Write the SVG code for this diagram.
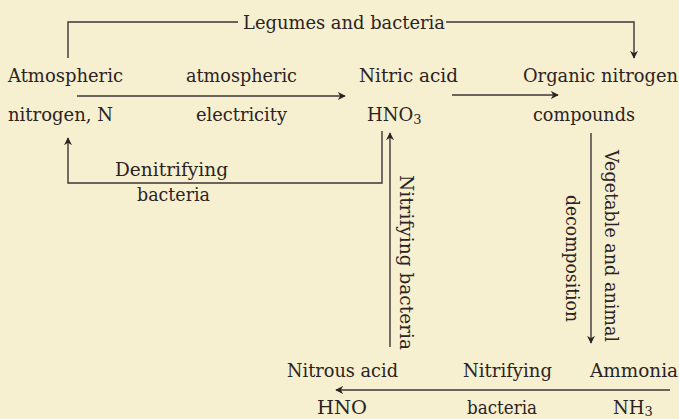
<svg xmlns="http://www.w3.org/2000/svg" width="679" height="419" viewBox="0 0 679 419">
<style>
  text { font-family: "DejaVu Serif", "Liberation Serif", serif; font-size: 18px; fill: #2b2323; }
  .sub { font-size: 13px; }
  .ln { stroke: #3e3434; stroke-width: 1.4; fill: none; }
</style>
<defs>
  <marker id="ah" viewBox="0 0 10 10" refX="9" refY="5" markerWidth="8" markerHeight="8" markerUnits="userSpaceOnUse" orient="auto">
    <path d="M0,0 L10,5 L0,10 L3,5 Z" fill="#2b2323"/>
  </marker>
</defs>
<rect width="679" height="419" fill="#f6efd0"/>

<g id="connectors">
  <path class="ln" d="M68,58 V22 H238"/>
  <path class="ln" d="M446,22 H634 V58" marker-end="url(#ah)"/>
  <path class="ln" d="M77,96 H345" marker-end="url(#ah)"/>
  <path class="ln" d="M452,95 H558" marker-end="url(#ah)"/>
  <path class="ln" d="M382,131 V183 H68 V138" marker-end="url(#ah)"/>
  <path class="ln" d="M390,347 V133" marker-end="url(#ah)"/>
  <path class="ln" d="M591,133 V343" marker-end="url(#ah)"/>
  <path class="ln" d="M670,390 H336" marker-end="url(#ah)"/>
</g>

<g id="label-legumes"><text x="243" y="29" textLength="202" lengthAdjust="spacingAndGlyphs">Legumes and bacteria</text></g>
<g id="node-atmospheric-nitrogen">
  <text x="8" y="82" textLength="115" lengthAdjust="spacingAndGlyphs">Atmospheric</text>
  <text x="8" y="121" textLength="105" lengthAdjust="spacingAndGlyphs">nitrogen, N</text>
</g>
<g id="label-electricity">
  <text x="186" y="82" textLength="111" lengthAdjust="spacingAndGlyphs">atmospheric</text>
  <text x="196" y="121" textLength="91" lengthAdjust="spacingAndGlyphs">electricity</text>
</g>
<g id="node-nitric-acid">
  <text x="359" y="82" textLength="99" lengthAdjust="spacingAndGlyphs">Nitric acid</text>
  <text x="367" y="121">HNO<tspan class="sub" dy="3">3</tspan></text>
</g>
<g id="node-organic-nitrogen">
  <text x="523" y="82" textLength="155" lengthAdjust="spacingAndGlyphs">Organic nitrogen</text>
  <text x="533" y="121" textLength="102" lengthAdjust="spacingAndGlyphs">compounds</text>
</g>
<g id="label-denitrifying">
  <text x="115" y="176" textLength="113" lengthAdjust="spacingAndGlyphs">Denitrifying</text>
  <text x="137" y="201" textLength="73" lengthAdjust="spacingAndGlyphs">bacteria</text>
</g>
<g id="label-nitrifying-vertical">
  <text transform="translate(400,175) rotate(90)" textLength="175" lengthAdjust="spacingAndGlyphs">Nitrifying bacteria</text>
</g>
<g id="label-decomposition">
  <text transform="translate(605,150) rotate(90)" textLength="192" lengthAdjust="spacingAndGlyphs">Vegetable and animal</text>
  <text transform="translate(566,195) rotate(90)" textLength="127" lengthAdjust="spacingAndGlyphs">decomposition</text>
</g>
<g id="node-nitrous-acid">
  <text x="287" y="377" textLength="111" lengthAdjust="spacingAndGlyphs">Nitrous acid</text>
  <text x="317" y="414" textLength="50" lengthAdjust="spacingAndGlyphs">HNO</text>
</g>
<g id="label-nitrifying-bottom">
  <text x="463" y="377" textLength="89" lengthAdjust="spacingAndGlyphs">Nitrifying</text>
  <text x="467" y="414" textLength="70" lengthAdjust="spacingAndGlyphs">bacteria</text>
</g>
<g id="node-ammonia">
  <text x="590" y="377" textLength="88" lengthAdjust="spacingAndGlyphs">Ammonia</text>
  <text x="613" y="414">NH<tspan class="sub" dy="2">3</tspan></text>
</g>
</svg>
